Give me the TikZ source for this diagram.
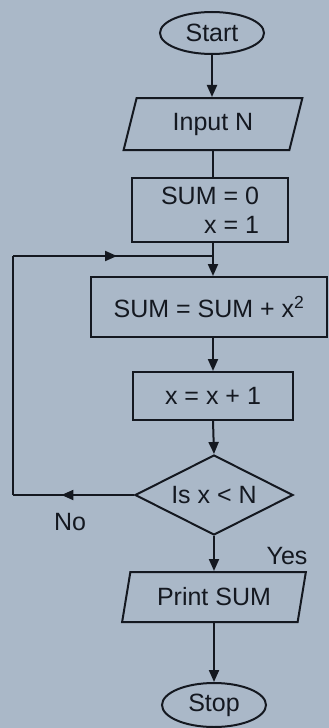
\documentclass[tikz,border=0pt]{standalone}
\usepackage{fontspec}
\setmainfont{Liberation Sans}
\usepackage{tikz}
\usetikzlibrary{arrows.meta,positioning,shapes.geometric,decorations.markings}
\usepackage{xcolor}
\definecolor{paper}{RGB}{170,184,200}
\definecolor{ink}{RGB}{20,24,32}

\begin{document}
\begin{tikzpicture}[
    x=1pt, y=-1pt,
    every node/.style={font=\fontsize{25}{29}\selectfont, text=ink},
    term/.style={draw=ink, ellipse, line width=2pt, inner sep=0pt, minimum width=104pt, minimum height=42pt},
    iobox/.style={draw=ink, trapezium, trapezium left angle=73, trapezium right angle=107, trapezium stretches=true, line width=2pt, inner sep=0pt, minimum height=52pt},
    procbox/.style={draw=ink, rectangle, line width=2pt, inner sep=0pt, align=center},
    decbox/.style={draw=ink, diamond, line width=2pt, inner sep=0pt, aspect=2, minimum width=158pt, minimum height=80pt},
    arrow/.style={-{Triangle[length=12pt, width=10pt]}, line width=2pt, draw=ink},
    link/.style={line width=2pt, draw=ink},
    midarrow/.style={link, postaction={decorate}, decoration={markings, mark=at position #1 with {\arrow{Triangle[length=12pt, width=10pt]}}}}
]

\fill[paper] (0,0) rectangle (329,728);
\useasboundingbox (0,0) rectangle (329,728);

\node[term] (start) at (212,33) {Start};
\node[iobox, minimum width=179pt] (input) at (213,124) {Input N};
\node[procbox, minimum width=156pt, minimum height=64pt, align=right] (init) at (210,210) {SUM = 0\\x = 1};
\node[procbox, minimum width=236pt, minimum height=60pt] (sum) at (209,307) {SUM = SUM + x\textsuperscript{2}};
\node[procbox, minimum width=160pt, minimum height=48pt] (inc) at (213,396) {x = x + 1};
\node[decbox] (dec) at (214,495) {Is x < N};
\node[iobox, minimum width=184pt, minimum height=50pt] (print) at (214,597) {Print SUM};
\node[term, minimum height=44pt] (stop) at (214,705) {Stop};

\coordinate (join) at (213,256);
\coordinate (loopbl) at (13,495);
\coordinate (looptl) at (13,256);

% main line
\draw[arrow] (start.south) -- (start.south |- input.north);
\draw[link] (input.south) -- (input.south |- init.north);
\draw[link] (init.south -| join) -- (join);
\draw[arrow] (join) -- (join |- sum.north);
\draw[arrow] (sum.south -| inc) -- (inc.north);
\draw[arrow] (inc.south) -- (dec.north);
\draw[arrow] (dec.south) -- (dec.south |- print.north);
\draw[arrow] (print.south) -- (print.south |- stop.north);

% loop back
\draw[midarrow=0.6] (dec.west) -- (loopbl);
\draw[link] (loopbl) -- (looptl);
\draw[midarrow=0.52] (looptl) -- (join);

\node (no) at (70,522) {No};
\node (yes) at (287,556) {Yes};

\end{tikzpicture}
\end{document}
